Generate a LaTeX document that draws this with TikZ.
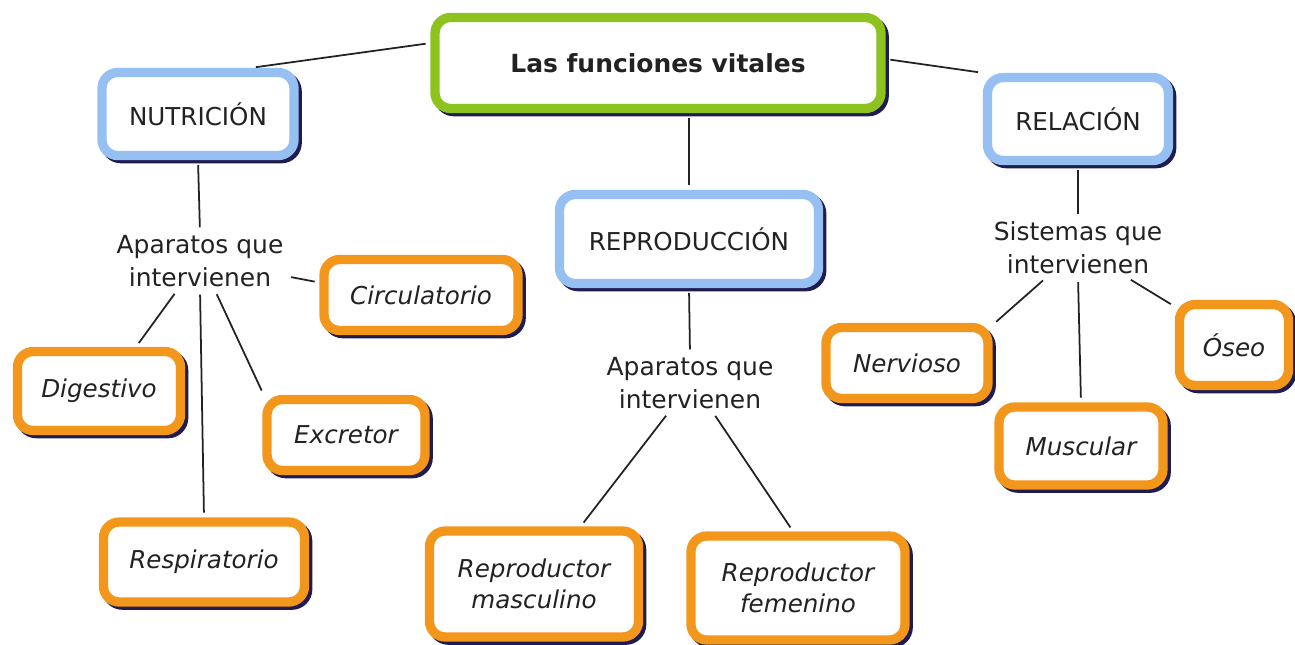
\documentclass[tikz,border=0pt]{standalone}
\usepackage{fontspec}
\setmainfont{DejaVu Sans}
\usetikzlibrary{shadows}
\definecolor{leafgreen}{RGB}{141,194,31}
\definecolor{skyblue}{RGB}{150,192,242}
\definecolor{orangeedge}{RGB}{243,150,28}
\definecolor{shadownavy}{RGB}{30,28,80}
\definecolor{inkgray}{RGB}{34,34,34}

\begin{document}
\begin{tikzpicture}[x=0.02cm, y=-0.02cm,
  box/.style={rectangle, rounded corners=9pt, line width=5.3pt, fill=white, text=inkgray,
    align=center, font=\fontsize{14}{17.5}\selectfont,
    drop shadow={shadow xshift=1.8pt, shadow yshift=-1.8pt, opacity=1, fill=shadownavy, draw=shadownavy, line width=5.3pt}},
  topbox/.style={box, draw=leafgreen, font=\fontsize{14.2}{17}\selectfont\bfseries},
  areabox/.style={box, draw=skyblue},
  organbox/.style={box, draw=orangeedge, font=\fontsize{14}{17.5}\selectfont\itshape},
  title/.style={align=center, text=inkgray, font=\fontsize{14.2}{19}\selectfont, inner sep=1.5pt},
  link/.style={draw=inkgray, line width=1pt, shorten <=2.7pt, shorten >=2.7pt},
  boxsize/.style 2 args={minimum width=#1*0.02cm, minimum height=#2*0.02cm}]
\useasboundingbox (0,0) rectangle (1295,645);
\node (main) at (658, 63) [topbox, boxsize={446}{91}] {Las funciones vitales};
\node (nutri) at (198, 114) [areabox, boxsize={192}{83}] {NUTRICIÓN};
\node (repro) at (689, 239) [areabox, boxsize={259}{89}] {REPRODUCCIÓN};
\node (rel) at (1078, 119) [areabox, boxsize={181}{83}] {RELACIÓN};
\node (apnut) at (200, 261) [title] {Aparatos que\\intervienen};
\node (apre) at (690, 383) [title] {Aparatos que\\intervienen};
\node (sisrel) at (1078, 248) [title] {Sistemas que\\intervienen};
\node (circ) at (421, 295) [organbox, boxsize={194}{71}] {Circulatorio};
\node (dig) at (99, 391) [organbox, boxsize={163}{79}] {Digestivo};
\node (excr) at (346, 435) [organbox, boxsize={158}{71}] {Excretor};
\node (resp) at (204, 562) [organbox, boxsize={201}{80}] {Respiratorio};
\node (masc) at (534, 584) [organbox, boxsize={209}{106}] {Reproductor\\masculino};
\node (fem) at (798, 588) [organbox, boxsize={214}{104}] {Reproductor\\femenino};
\node (nerv) at (907, 363) [organbox, boxsize={162}{71}] {Nervioso};
\node (musc) at (1081, 446) [organbox, boxsize={164}{78}] {Muscular};
\node (oseo) at (1234, 345) [organbox, boxsize={109}{81}] {Óseo};
\draw [link] (main.175) -- (nutri.41);
\draw [link] (main.1) -- (rel.north west);
\draw [link] (main.south -| repro.north) -- (repro.north);
\draw [link] (nutri.south) -- (apnut.north);
\draw [link] (apnut.350) -- (circ.173);
\draw [link] (apnut.232) -- (dig.50);
\draw [link] (apnut.south) -- (resp.north);
\draw [link] (apnut.297) -- (excr.154);
\draw [link] (repro.south) -- (apre.north);
\draw [link] (apre.234) -- (masc.51);
\draw [link] (apre.308) -- (fem.95);
\draw [link] (rel.south) -- (sisrel.north);
\draw [link] (sisrel.223) -- (nerv.24);
\draw [link] (sisrel.south) -- (musc.north);
\draw [link] (sisrel.329) -- (oseo.147);
\end{tikzpicture}
\end{document}
